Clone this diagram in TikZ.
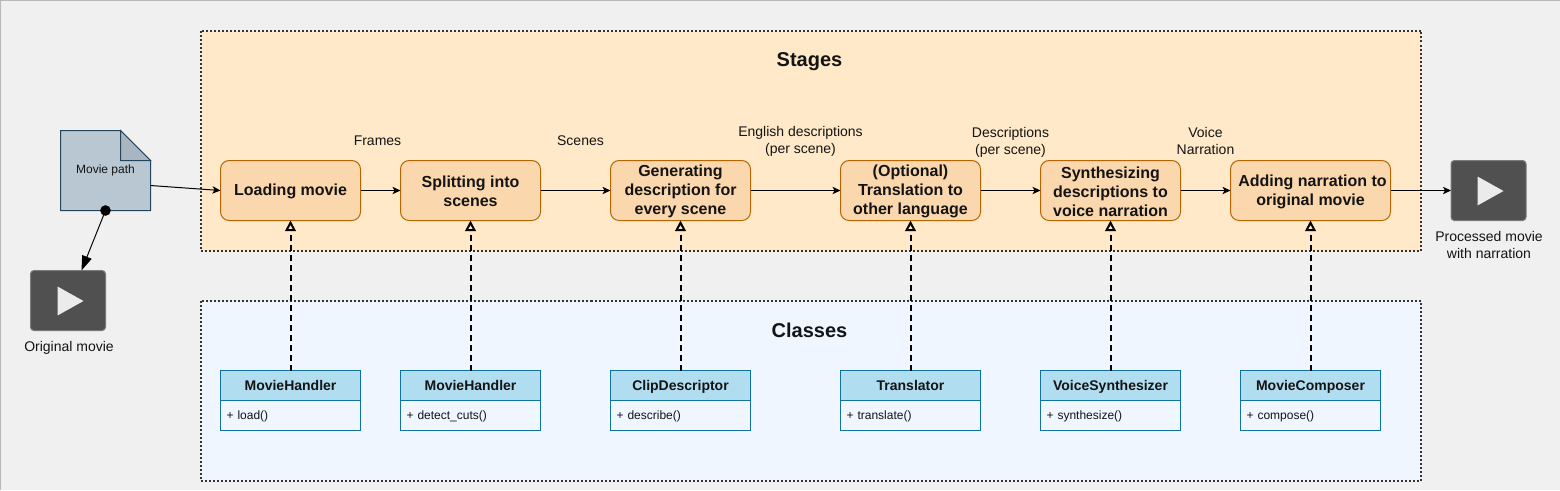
\documentclass[tikz,border=0pt]{standalone}
\usepackage{fontspec}
\setmainfont{Liberation Sans}
\usetikzlibrary{arrows.meta,positioning,calc}
\definecolor{bgc}{HTML}{F0F0F0}
\definecolor{stagefill}{HTML}{FFE9C9}
\definecolor{classfill}{HTML}{EFF6FF}
\definecolor{boxfill}{HTML}{FAD7AC}
\definecolor{boxline}{HTML}{B46504}
\definecolor{headfill}{HTML}{B1DDF0}
\definecolor{headline}{HTML}{10739E}
\definecolor{docfill}{HTML}{B9C7D3}
\definecolor{docfold}{HTML}{A9B6C1}
\definecolor{docline}{HTML}{23445D}
\definecolor{playfill}{HTML}{505050}
\definecolor{playline}{HTML}{7A7A7A}
\definecolor{frameline}{HTML}{333333}
\tikzset{
  every node/.style={inner sep=0pt,outer sep=0pt,text=black!92},
  group/.style={draw=frameline,line width=1.5pt,dash pattern=on 1.5pt off 1.5pt,anchor=north west},
  stagebox/.style={draw=boxline,fill=boxfill,line width=.75pt,rounded corners=6.5pt,minimum width=105pt,minimum height=45pt},
  widebox/.style={stagebox,minimum width=120pt},
  stagetext/.style={align=center,font=\fontsize{12}{14.25}\selectfont\bfseries,yshift=-.75pt,text=black!92},
  classhead/.style={draw=headline,fill=headfill,line width=.75pt,minimum width=105pt,minimum height=22.5pt,font=\fontsize{10.5}{12}\selectfont\bfseries,text height=10pt,text depth=2.5pt},
  classbody/.style={draw=headline,line width=.75pt,minimum width=105pt,minimum height=22.5pt,font=\fontsize{9}{11}\selectfont,text width=96pt,align=left,text height=8pt,text depth=2pt},
  lbl/.style={font=\fontsize{10.5}{12.75}\selectfont,align=center},
  smalllbl/.style={font=\fontsize{9}{11}\selectfont,align=center},
  grouptitle/.style={font=\fontsize{15}{18}\selectfont\bfseries},
  playbox/.style={draw=playline,fill=playfill,line width=.75pt,rounded corners=2.5pt,minimum width=56.25pt,minimum height=45pt},
  flow/.style={line width=.75pt,-{Stealth[length=6pt,width=5.5pt,inset=1.5pt]}},
  flowbig/.style={line width=.75pt,-{Stealth[length=11pt,width=7.5pt,inset=0pt]}},
  impl/.style={line width=1.5pt,dash pattern=on 4.5pt off 3pt,-{Triangle[open,length=8pt,width=8pt,line width=1.5pt]}},
}
\begin{document}
\begin{tikzpicture}[x=.75pt,y=-.75pt]
\useasboundingbox (0,0) rectangle (1560,490);
\fill[bgc] (0,0) rectangle (1560,490);
\draw[black!28,line width=.75pt] (.5,490) -- (.5,.5) -- (1560,.5);

\begin{scope}[shift={(.5,.5)}]
% containers
\node[group,fill=stagefill,minimum width=915pt,minimum height=165pt] (stages) at (200,30) {};
\node[group,fill=classfill,minimum width=915pt,minimum height=135pt] (classes) at (200,300) {};
\node[grouptitle] (stagestitle) at (809,61.5) {Stages};
\node[grouptitle] (classestitle) at (809,330) {Classes};

% document
\coordinate (dA) at (60,130);
\coordinate (dB) at (120,130);
\coordinate (dC) at (150,160);
\coordinate (dD) at (150,210);
\coordinate (dE) at (60,210);
\filldraw[fill=docfill,draw=docline,line width=.75pt] (dA) -- (dB) -- (dC) -- (dD) -- (dE) -- cycle;
\filldraw[fill=docfold,draw=docline,line width=.75pt] (dB) -- (dC) -- (120,160) -- cycle;
\node[smalllbl] (doclabel) at (105,170) {Movie path};
\coordinate (docout) at (150,185);
\coordinate (docdot) at (105,210);
\fill[black] (docdot) circle (4pt);

% play boxes
\node[playbox] (play1) at (67.5,300) {};
\fill[white!92!black] (57,286) -- (83,300.5) -- (57,315) -- cycle;
\node[lbl] (play1label) at (68.5,347) {Original movie};
\node[playbox] (play2) at (1488,190) {};
\fill[white!92!black] (1477,176) -- (1503,190.5) -- (1477,205) -- cycle;
\node[lbl] (play2label) at (1488.5,244) {Processed movie\\with narration};
\coordinate (play1in) at (81,270);

% stages
\node[stagebox,label={[stagetext]center:Loading movie}] (s1) at (290,190) {};
\node[stagebox,label={[stagetext]center:{Splitting into\\scenes}}] (s2) at (470,190) {};
\node[stagebox,label={[stagetext]center:{Generating\\description for\\every scene}}] (s3) at (680,190) {};
\node[stagebox,label={[stagetext]center:{(Optional)\\Translation to\\other language}}] (s4) at (910,190) {};
\node[stagebox,label={[stagetext]center:{Synthesizing\\descriptions to\\voice narration}}] (s5) at (1110,190) {};
\node[widebox,label={[stagetext]center:{\hspace*{3pt}Adding narration to\\original movie}}] (s6) at (1310,190) {};

% data labels
\node[lbl] (l1) at (377,140) {Frames};
\node[lbl] (l2) at (580,140) {Scenes};
\node[lbl] (l3) at (800,141) {English descriptions\\(per scene)};
\node[lbl] (l4) at (1010,142) {Descriptions\\(per scene)};
\node[lbl] (l5) at (1205,140.5) {Voice\\Narration};

% classes
\foreach \n/\x/\h/\b in {c1/290/MovieHandler/load(),c2/470/MovieHandler/detect\_cuts(),c3/680/ClipDescriptor/describe(),c4/910/Translator/translate(),c5/1110/VoiceSynthesizer/synthesize(),c6/1310/MovieComposer/compose()}{
  \node[classhead] (\n h) at (\x,385) {\h};
  \node[classbody] (\n b) at (\x,415) {+ \b};
}

% connectors
\draw[flow] (docout) -- (s1.west);
\draw[flowbig] (docdot) -- (play1in);
\draw[flow] (s1) -- (s2);
\draw[flow] (s2) -- (s3);
\draw[flow] (s3) -- (s4);
\draw[flow] (s4) -- (s5);
\draw[flow] (s5) -- (s6);
\draw[flow] (s6) -- (play2);
\foreach \i in {1,...,6}{
  \draw[impl] (c\i h.north) -- (s\i.south);
}
\end{scope}
\end{tikzpicture}
\end{document}
